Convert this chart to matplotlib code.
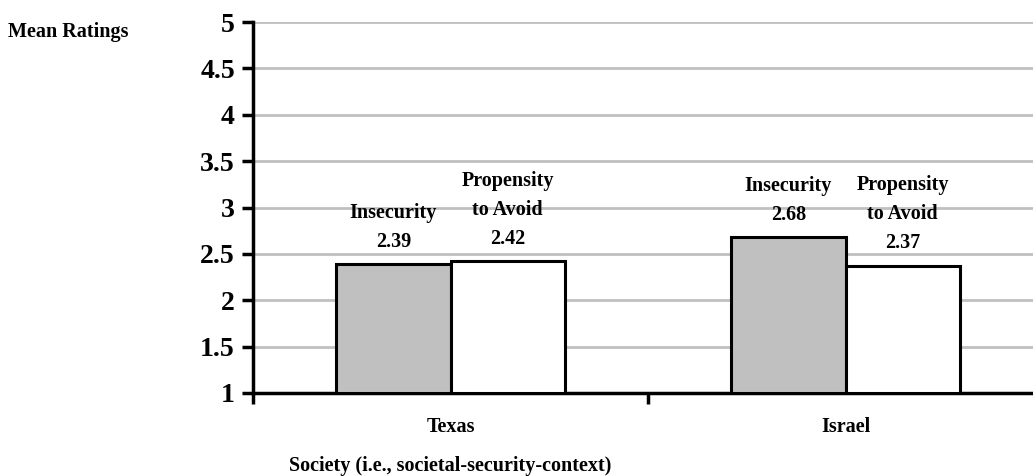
import matplotlib.pyplot as plt

# mean ratings per society
societies = ['Texas', 'Israel']
insecurity = [2.39, 2.68]
avoid = [2.42, 2.37]
series_names = ['Insecurity', 'Propensity\nto Avoid']

plt.rcParams['font.family'] = ['Liberation Serif', 'DejaVu Serif']
plt.rcParams['font.weight'] = 'bold'

fig = plt.figure(figsize=(10.33, 4.76), dpi=100)
ax = fig.add_axes([253 / 1033, 83 / 476, 790 / 1033, 371 / 476])

w = 0.289
x = [0, 1]
gray_bars = ax.bar([i - w / 2 for i in x], [v - 1 for v in insecurity], w, bottom=1,
                   color='#c0c0c0', edgecolor='black', linewidth=2.2, zorder=3)
white_bars = ax.bar([i + w / 2 for i in x], [v - 1 for v in avoid], w, bottom=1,
                    color='white', edgecolor='black', linewidth=2.2, zorder=3)

# labels above each bar
for bars, vals, name in [(gray_bars, insecurity, series_names[0]),
                         (white_bars, avoid, series_names[1])]:
    for b, v in zip(bars, vals):
        ax.annotate(f'{name}\n{v:.2f}', (b.get_x() + b.get_width() / 2, v),
                    xytext=(0, 9), textcoords='offset points',
                    ha='center', va='bottom', fontsize=14.5, fontweight='bold',
                    linespacing=1.6)

ax.set_xlim(-0.5, 1.5)
ax.set_ylim(1, 5)
ax.set_yticks([1, 1.5, 2, 2.5, 3, 3.5, 4, 4.5, 5])
ax.set_yticklabels(['1', '1.5', '2', '2.5', '3', '3.5', '4', '4.5', '5'],
                   fontsize=20, fontweight='bold')
ax.yaxis.grid(True, color='#c0c0c0', linewidth=2, zorder=0)
ax.set_axisbelow(True)

# category boundary ticks, names centred below
ax.set_xticks([-0.5, 0.5, 1.5])
ax.set_xticklabels([])
ax.set_xticks(x, minor=True)
ax.set_xticklabels(societies, minor=True, fontsize=14.5, fontweight='bold')
ax.tick_params(axis='x', which='minor', length=0, pad=17)
ax.tick_params(axis='x', which='major', length=8, width=2.5, direction='out')
ax.tick_params(axis='y', length=8, width=2.5, direction='out', pad=5)

for s in ['top', 'right']:
    ax.spines[s].set_visible(False)
for s in ['left', 'bottom']:
    ax.spines[s].set_linewidth(2.5)

fig.text(8 / 1033, 1 - 32 / 476, 'Mean Ratings', fontsize=14.5, fontweight='bold',
         ha='left', va='center')
fig.text(450 / 1033, 1 - 466 / 476, 'Society (i.e., societal-security-context)',
         fontsize=14.5, fontweight='bold', ha='center', va='center')

fig.savefig('out.png', dpi=100)
plt.close(fig)
